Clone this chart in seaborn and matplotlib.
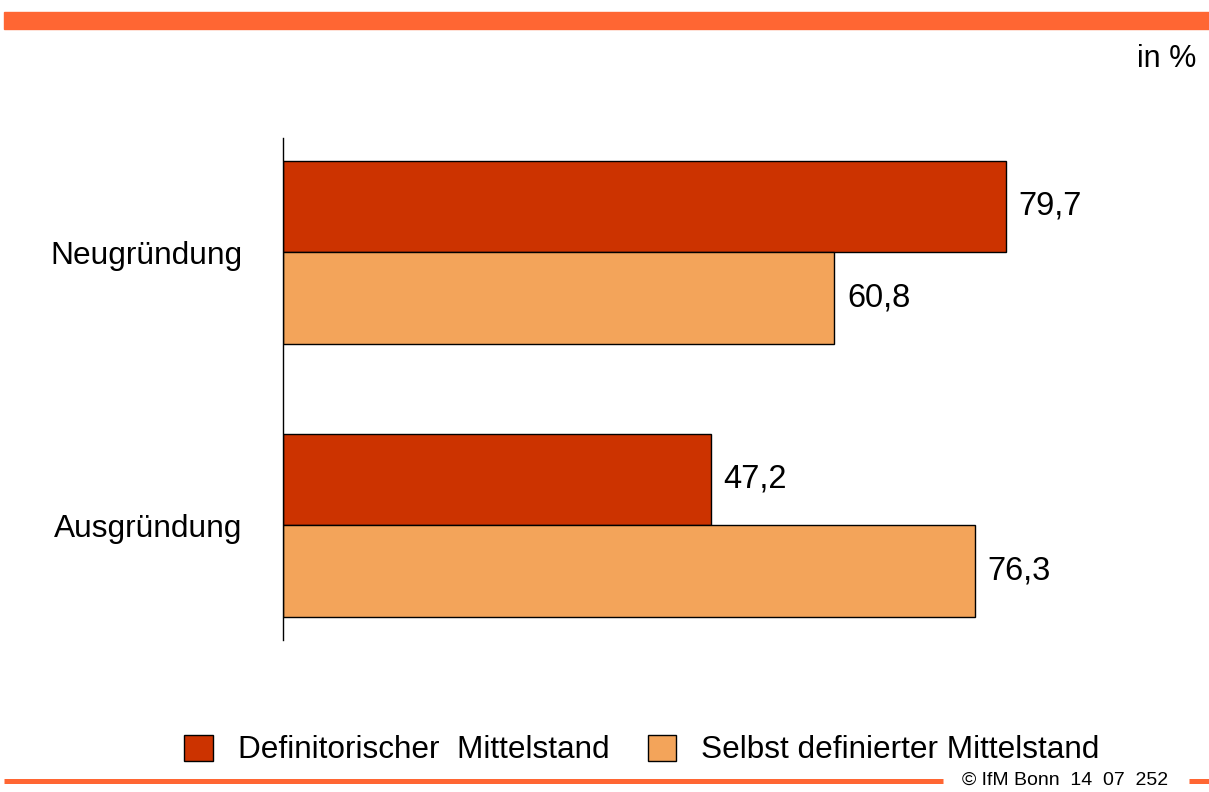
import matplotlib
matplotlib.use("Agg")
import matplotlib.pyplot as plt
import seaborn as sns
import pandas as pd
from matplotlib.patches import Patch, Rectangle
from matplotlib.lines import Line2D
from matplotlib.transforms import offset_copy

categories = ["Neugründung", "Ausgründung"]
series = ["Definitorischer  Mittelstand", "Selbst definierter Mittelstand"]
definitorisch = [79.7, 47.2]
selbst = [60.8, 76.3]
value_labels_def = ["79,7", "47,2"]
value_labels_selbst = ["60,8", "76,3"]
colors = ["#CC3300", "#F3A45A"]

sns.set_theme(style="white")
plt.rcParams['font.family'] = ['Liberation Sans', 'DejaVu Sans']
plt.rcParams['text.color'] = 'black'
plt.rcParams['ytick.color'] = 'black'

df = pd.DataFrame({
    "Kategorie": categories * 2,
    "Serie": [series[0]] * 2 + [series[1]] * 2,
    "Wert": definitorisch + selbst,
})

fig = plt.figure(figsize=(12.09, 7.92), dpi=100)
W, H = 1209, 792
ax = fig.add_axes([283 / W, (H - 640) / H, (1190 - 283) / W, 502 / H])

sns.barplot(data=df, y="Kategorie", x="Wert", hue="Serie", orient="h",
            palette=colors, width=0.67, edgecolor="black", linewidth=1,
            saturation=1, legend=False, ax=ax)

ax.set_xlim(0, 100)
ax.set_ylim(1.421, -0.418)
ax.set_xlabel("")
ax.set_ylabel("")
ax.set_xticks([])
ax.tick_params(axis="y", length=0, pad=29.5, labelsize=22.8, labelcolor="black")
for s in ["top", "right", "bottom"]:
    ax.spines[s].set_visible(False)
ax.spines["left"].set_color("black")
ax.spines["left"].set_linewidth(1)

for container, labs in zip(ax.containers, [value_labels_def, value_labels_selbst]):
    texts = ax.bar_label(container, labels=labs, padding=9, fontsize=23.5, color="black")
    for t in texts:
        t.set_transform(offset_copy(t.get_transform(), fig=fig, x=0, y=-2, units="dots"))

# top orange band
fig.patches.append(Rectangle((4 / W, 1 - 29 / H), 1 - 4 / W, 17 / H,
                             transform=fig.transFigure, color="#FF6633", zorder=0))
fig.text(1196 / W, 1 - 59 / H, "in %", ha="right", va="center", fontsize=22)

# bottom line and footer
fig.add_artist(Line2D([4 / W, 943 / W], [1 - 781 / H] * 2, color="#FF6633", lw=3.6,
                      solid_capstyle="butt", transform=fig.transFigure))
fig.add_artist(Line2D([1189 / W, 1209 / W], [1 - 781 / H] * 2, color="#FF6633", lw=3.6,
                      solid_capstyle="butt", transform=fig.transFigure))
fig.text(1065 / W, 1 - 780 / H, "© IfM Bonn  14  07  252", ha="center", va="center",
         fontsize=14)

handles = [Patch(facecolor=c, edgecolor="black", linewidth=1) for c in colors]
fig.legend(handles, series, loc="center", bbox_to_anchor=(642 / W, 1 - 750 / H),
           ncol=2, frameon=False, fontsize=22.7, handlelength=0.9, handleheight=0.9,
           handletextpad=0.8, columnspacing=1.2, borderpad=0, borderaxespad=0)

fig.savefig("out.png", dpi=100)
